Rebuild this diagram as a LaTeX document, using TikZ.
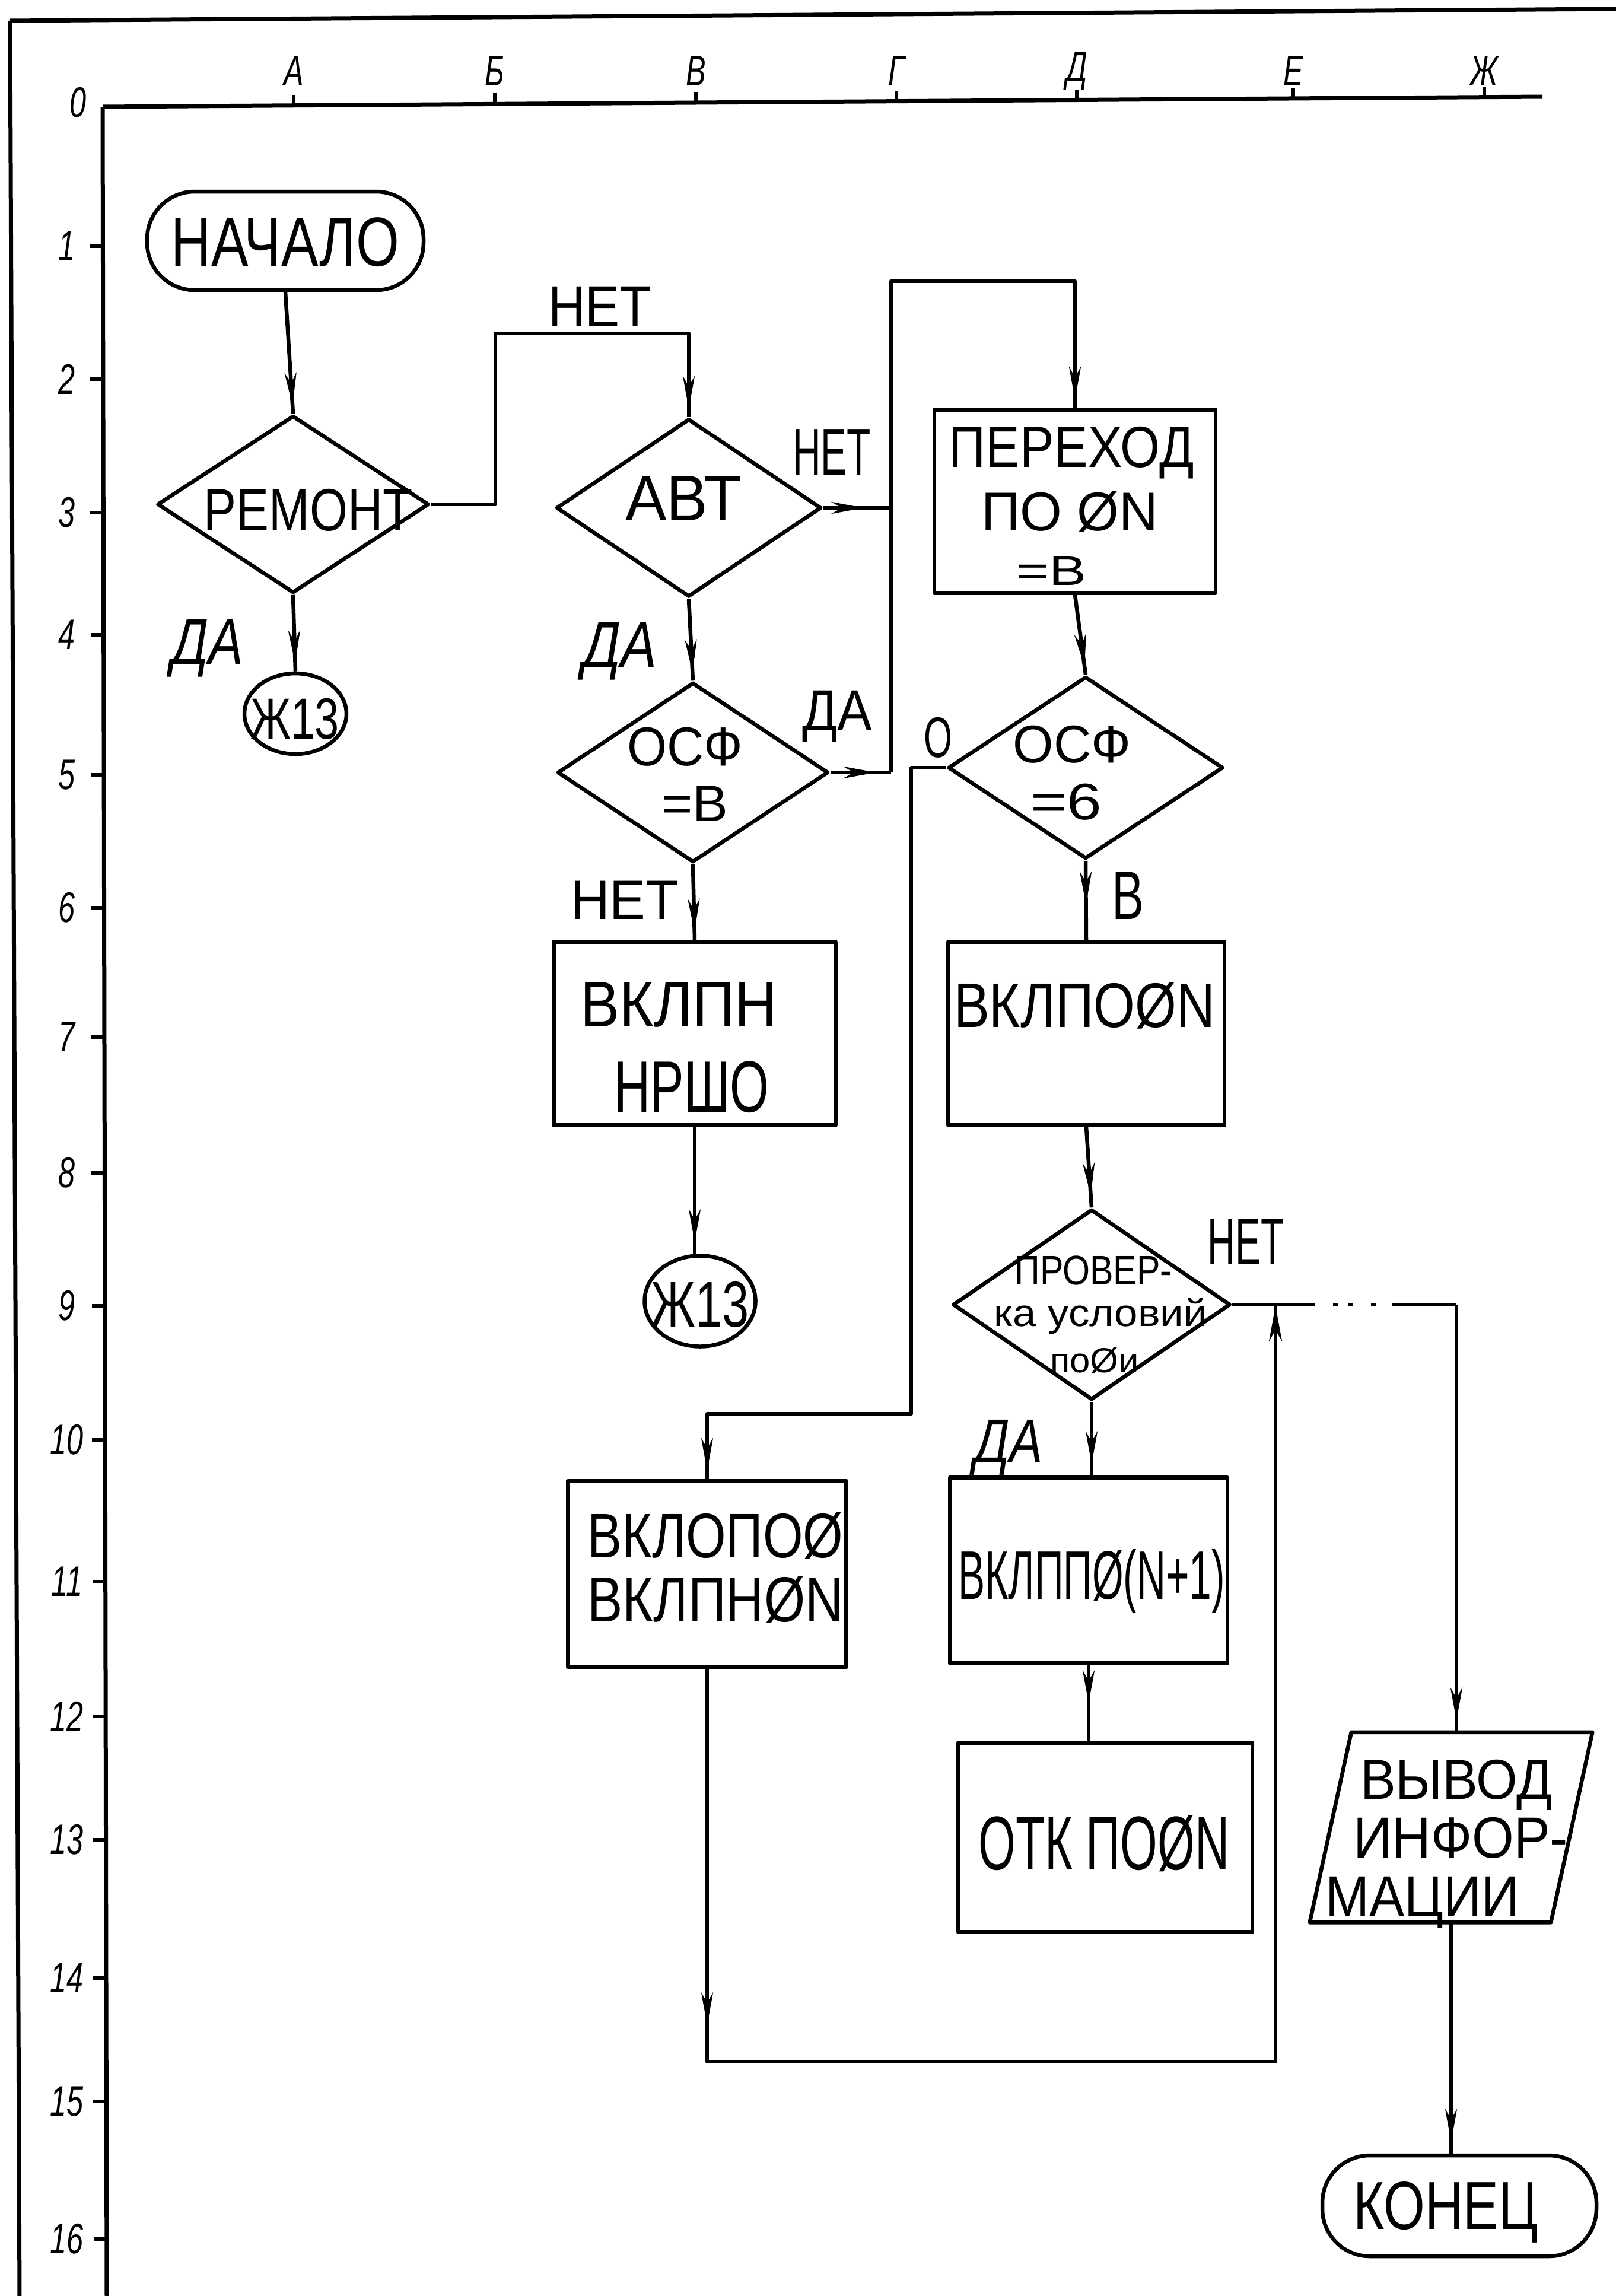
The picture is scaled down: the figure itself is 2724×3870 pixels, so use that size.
\documentclass[tikz,border=0pt]{standalone}
\usepackage{fontspec}
\usepackage{graphicx}
\setmainfont{Liberation Sans}
\usetikzlibrary{shapes.geometric,arrows.meta,decorations.markings,calc}
% #1 = width, #2 = cap height (px = pt), #3 = text; box has height #2 and no depth
\newcommand\fitt[3]{\rule{0pt}{#2pt}\smash{\resizebox{#1pt}{\height}{\fontsize{\fpeval{round(#2/0.716,2)}}{\fpeval{round(#2/0.716,2)}}\selectfont #3}}}
\newcommand\handtxt[1]{\scalebox{0.7}[1]{\fontsize{72pt}{72pt}\selectfont\itshape #1}}
\begin{document}
\begin{tikzpicture}[x=1pt,y=-1pt,line width=6.5pt,line join=round,
  box/.style={draw,rectangle,inner sep=0pt},
  dia/.style={draw,diamond,inner sep=0pt},
  term/.style={draw,rectangle,rounded corners=80pt,inner sep=0pt},
  conn/.style={draw,ellipse,inner sep=0pt},
  txt/.style={inner sep=0pt},
  tipat/.style={postaction={decorate},decoration={markings,mark=at position #1 with {\arrow{Stealth[length=55pt,width=20pt]}}}},
  frame/.style={line width=7pt}]
\useasboundingbox (0,0) rectangle (2724,3870);

% ---------- frame and grid ----------
\draw[frame] (17,35) -- (2724,15);
\draw[frame] (17,35) -- (33,3870);
\draw[frame] (174,180) -- (2600,163);
\draw[frame] (173,180) -- (180,3870);
\foreach \n/\x/\l in {1/495/А,2/834/Б,3/1173/В,4/1511/Г,5/1815/Д,6/2180/Е,7/2502/Ж}{
  \node[txt] (col\n) at (\x,120) {\handtxt{\l}};
  \draw (\x,{180-(\x-174)*0.007}) -- ++(0,-18);
}
\foreach \r/\x/\y in {0/132/173,1/113/415,2/113/639,3/113/864,4/113/1070,5/113/1306,6/113/1530,7/113/1748,8/113/1977,9/113/2201,10/113/2427,11/113/2666,12/113/2893,13/113/3101,14/113/3334,15/113/3542,16/113/3774}{
  \node[txt] (row\r) at (\x,\y) {\handtxt{\r}};
}
\foreach \y in {415,639,864,1070,1306,1530,1748,1977,2201,2427,2666,2893,3101,3334,3542,3774}{
  \draw ({173+(\y-180)*0.0019},\y) -- ++(-22,0);
}

% ---------- blocks ----------
\node[term,minimum width=466pt,minimum height=166pt] (start) at (481,406) {\fitt{384}{84}{НАЧАЛО}};
\node[dia,minimum width=458pt,minimum height=299pt] (remont) at (494,850) {};
\node[txt] (tremont) at (520,858) {\fitt{352}{72}{РЕМОНТ}};
\node[conn,minimum width=172pt,minimum height=136pt] (zh1) at (498,1203) {};
\node[txt] (tzh1) at (497,1210) {\fitt{150}{70}{Ж13}};

\node[dia,minimum width=447pt,minimum height=300pt] (avt) at (1161,856) {};
\node[txt] (tavt) at (1152,838) {\fitt{196}{78}{АВТ}};
\node[dia,minimum width=457pt,minimum height=303pt] (osfv) at (1168,1302) {};
\node[txt] (tosfv1) at (1155,1257) {\fitt{195}{66}{ОСФ}};
\node[txt] (tosfv2) at (1171,1353) {\fitt{112}{62}{=В}};

\node[box,minimum width=474pt,minimum height=309pt] (perehod) at (1812,845) {};
\node[txt] (tper1) at (1806,752) {\fitt{413}{70}{ПЕРЕХОД}};
\node[txt] (tper2) at (1803,861) {\fitt{298}{66}{ПО ØN}};
\node[txt] (tper3) at (1772,961) {\fitt{118}{50}{=В}};

\node[dia,minimum width=464pt,minimum height=307pt] (osf6) at (1830,1294) {};
\node[txt] (tosf61) at (1807,1253) {\fitt{199}{64}{ОСФ}};
\node[txt] (tosf62) at (1797,1350) {\fitt{120}{62}{=6}};

\node[box,minimum width=475pt,minimum height=309pt] (vklpn) at (1171,1742) {};
\node[txt] (tvklpn1) at (1144,1691) {\fitt{332}{78}{ВКЛПН}};
\node[txt] (tvklpn2) at (1166,1830) {\fitt{261}{88}{НРШО}};
\node[conn,minimum width=187pt,minimum height=153pt] (zh2) at (1180,2193) {};
\node[txt] (tzh2) at (1180,2197) {\fitt{165}{78}{Ж13}};

\node[box,minimum width=466pt,minimum height=309pt] (vklpon) at (1831,1742) {};
\node[txt] (tvklpon) at (1828,1693) {\fitt{440}{76}{ВКЛПОØN}};

\node[dia,minimum width=468pt,minimum height=321pt] (prov) at (1840,2199) {};
\node[txt] (tprov1) at (1843,2140) {\fitt{265}{50}{ПРОВЕР-}};
\node[txt] (tprov2) at (1855,2212) {\fitt{360}{46}{ка условий}};
\node[txt] (tprov3) at (1845,2292) {\fitt{150}{42}{поØи}};

\node[box,minimum width=469pt,minimum height=314pt] (vklopo) at (1192,2653) {};
\node[txt] (tvklopo1) at (1206,2587) {\fitt{431}{76}{ВКЛОПОØ}};
\node[txt] (tvklopo2) at (1206,2695) {\fitt{431}{77}{ВКЛПНØN}};

\node[box,minimum width=468pt,minimum height=313pt] (vklpp) at (1835,2647) {};
\node[txt] (tvklpp) at (1840,2654) {\fitt{450}{83}{ВКЛППØ(N+1)}};
\node[box,minimum width=496pt,minimum height=319pt] (otk) at (1863,3097) {};
\node[txt] (totk) at (1861,3105) {\fitt{423}{92}{ОТК ПОØN}};

\node[minimum width=400pt,minimum height=314pt,inner sep=0pt] (vyvod) at (2446,3080) {};
\draw ($(vyvod.north west)+(35,0)$) -- ($(vyvod.north east)+(35,0)$) -- ($(vyvod.south east)+(-35,0)$) -- ($(vyvod.south west)+(-35,0)$) -- cycle;
\node[txt] (tvyv1) at (2455,2998) {\fitt{324}{68}{ВЫВОД}};
\node[txt] (tvyv2) at (2462,3096) {\fitt{362}{70}{ИНФОР-}};
\node[txt] (tvyv3) at (2398,3195) {\fitt{327}{70}{МАЦИИ}};

\node[term,minimum width=462pt,minimum height=170pt] (end) at (2460,3718) {};
\node[txt] (tend) at (2437,3716) {\fitt{312}{82}{КОНЕЦ}};

% ---------- junction points ----------
\coordinate (jtop) at (1502,474);
\coordinate (jmid) at (1502,856);
\coordinate (jbot) at (1502,1302);
\coordinate (jnet) at (2455,2199);
\coordinate (jret) at (2150,3475);

% ---------- connectors ----------
\draw[tipat=-14pt] (start.south) -- (remont.north);
\draw[tipat=-14pt] (remont.south) -- (zh1.north);
\draw[tipat=-14pt] (remont.east) -- (835,850) -- (835,562) -- (avt.north |- 0,562) -- (avt.north);
\draw[tipat=-14pt] (avt.south) -- (osfv.north);
\draw[tipat=0.6] (avt.east) -- (jmid);
\draw[tipat=0.75] (osfv.east) -- (jbot);
\draw[tipat=-14pt] (jbot) -- (jtop) -- (perehod.north |- jtop) -- (perehod.north);
\draw[tipat=-14pt] (perehod.south) -- (osf6.north);
\draw[tipat=0.55] (osf6.south) -- (vklpon.north);
\draw[tipat=-14pt] (osf6.west) -- (1536,1294) -- (1536,2383) -- (vklopo.north |- 0,2383) -- (vklopo.north);
\draw[tipat=-14pt] (osfv.south) -- (vklpn.north);
\draw[tipat=-20pt] (vklpn.south) -- (vklpn.south |- zh2.north);
\draw[tipat=-20pt] (vklpon.south) -- (prov.north);
\draw[tipat=-20pt] (prov.south) -- (prov.south |- vklpp.north);
\draw[tipat=0.5] (vklpp.south) -- (vklpp.south |- otk.north);
\draw[dash pattern=on 140pt off 30pt on 8pt off 18pt on 8pt off 30pt on 8pt off 28pt on 300pt] (prov.east) -- (jnet);
\draw[tipat=-20pt] (jnet) -- (jnet |- vyvod.north);
\draw[tipat=-20pt] (vyvod.south) -- (vyvod.south |- end.north);
\draw[postaction={decorate},decoration={markings,
   mark=at position 600pt with {\arrow{Stealth[length=55pt,width=20pt]}},
   mark=at position -2pt with {\arrow{Stealth[length=60pt,width=22pt]}}}]
   (vklopo.south) -- (vklopo.south |- jret) -- (jret) -- (jret |- jnet);

% ---------- branch labels ----------
\node[txt] (lnet1) at (1011,515) {\fitt{174}{70}{НЕТ}};
\node[txt] (lnet2) at (1402,760) {\fitt{132}{80}{НЕТ}};
\node[txt] (lda1) at (350,1080) {\fitt{121}{78}{\itshape ДА}};
\node[txt] (lda2) at (1045,1085) {\fitt{125}{78}{\itshape ДА}};
\node[txt] (lda3) at (1411,1196) {\fitt{118}{70}{ДА}};
\node[txt] (lo) at (1581,1242) {\fitt{48}{69}{О}};
\node[txt] (lnet3) at (1053,1516) {\fitt{182}{67}{НЕТ}};
\node[txt] (lv) at (1901,1508) {\fitt{54}{83}{В}};
\node[txt] (lnet4) at (2100,2091) {\fitt{129}{80}{НЕТ}};
\node[txt] (lda4) at (1700,2428) {\fitt{116}{75}{\itshape ДА}};
\end{tikzpicture}
\end{document}
